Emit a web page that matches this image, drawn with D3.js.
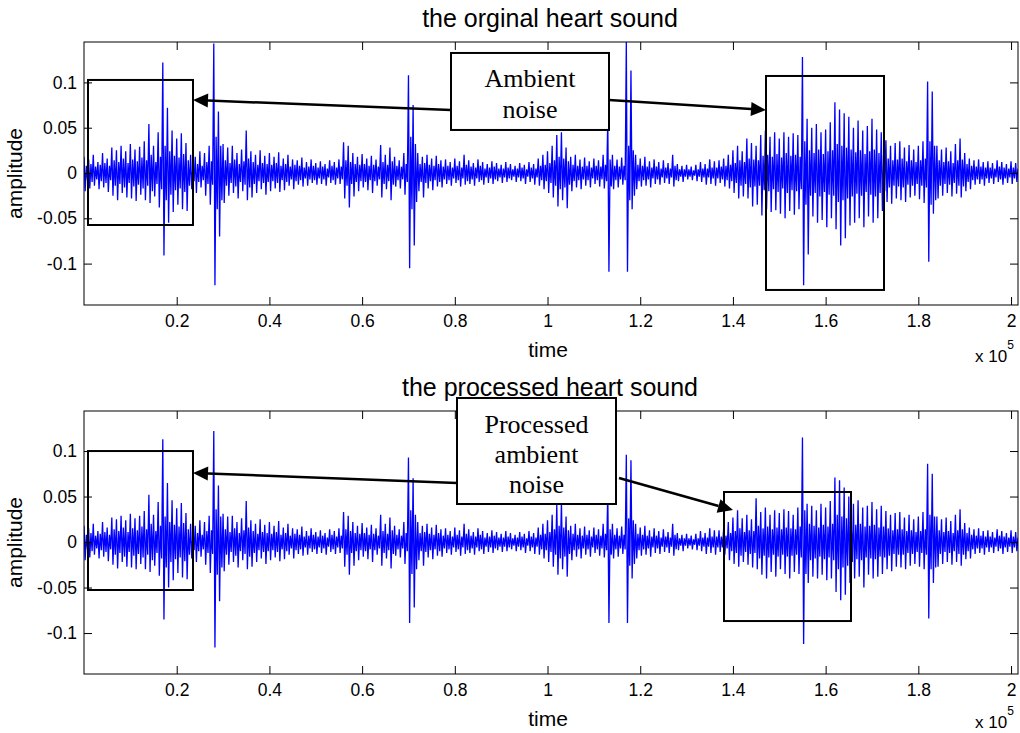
<!DOCTYPE html>
<html lang="en">
<head>
<meta charset="utf-8">
<title>heart sound</title>
<script src="https://cdn.jsdelivr.net/npm/d3@7"></script>
<style>
  body { margin: 0; background: #fff; }
  svg text { font-family: "Liberation Sans", Arial, sans-serif; fill: #000; }
  .tick line { stroke: #000; stroke-width: 1px; }
  .tick text { font-size: 17.5px; font-family: "Liberation Sans", Arial, sans-serif; }
  .note { font-family: "Liberation Serif", "Times New Roman", serif; font-size: 26px; }
</style>
</head>
<body>
<div id="chart"></div>
<script>
// envelope of the recordings, one max/min pair per 1000 samples, in units of 0.001
var origMax = [
  18,15,20,12,22,16,28,25,30,24,  32,26,29,35,54,30,45,122,72,47,
  38,44,33,20,18,24,22,30,143,68, 32,28,30,22,26,47,24,20,25,19,
  22,18,23,16,20,15,14,17,12,15,  11,13,10,14,12,15,34,30,22,18,
  21,16,19,15,31,20,28,18,14,22,  108,75,22,18,20,16,19,14,15,12,
  16,13,20,14,11,15,12,10,13,11,  9,12,10,8,11,9,12,10,16,20,
  24,30,42,45,28,18,20,15,17,13,  16,14,20,60,20,15,17,145,113,20,
  16,18,13,15,12,14,11,20,10,8,   9,7,9,12,10,15,13,14,16,20,
  25,30,24,38,33,30,42,47,40,45,  38,45,40,44,42,128,60,50,54,45,
  48,56,78,70,66,62,50,58,47,52,  60,48,45,36,30,33,35,28,31,26,
  30,35,101,90,30,26,28,24,32,38, 22,16,14,15,12,13,11,14,12,10,
  13,11
];
var origMin = [
  -20,-17,-14,-18,-16,-21,-25,-30,-22,-27,  -28,-31,-24,-30,-33,-26,-38,-91,-55,-43,
  -35,-40,-42,-18,-22,-16,-25,-35,-124,-70, -33,-25,-22,-28,-20,-30,-27,-22,-18,-24,
  -20,-17,-21,-19,-14,-18,-13,-15,-14,-11,  -13,-12,-14,-11,-13,-12,-28,-38,-26,-20,
  -16,-19,-22,-14,-27,-18,-30,-15,-17,-24,  -105,-80,-20,-27,-17,-19,-15,-16,-12,-14,
  -11,-15,-13,-12,-14,-10,-13,-11,-12,-9,   -11,-10,-8,-10,-9,-12,-10,-13,-14,-18,
  -22,-27,-37,-30,-39,-20,-16,-18,-14,-16,  -12,-15,-17,-109,-18,-16,-13,-109,-40,-18,
  -15,-14,-16,-12,-13,-11,-12,-15,-9,-10,   -7,-8,-9,-10,-13,-12,-14,-11,-15,-17,
  -22,-28,-26,-28,-37,-35,-47,-40,-43,-41,  -45,-50,-42,-46,-40,-124,-90,-48,-55,-52,
  -60,-50,-62,-80,-72,-58,-55,-50,-60,-48,  -55,-50,-42,-32,-34,-28,-30,-32,-27,-25,
  -29,-33,-98,-45,-28,-25,-22,-26,-23,-27,  -20,-18,-13,-12,-14,-11,-12,-10,-13,-11,
  -12,-10
];
// typical (inner) swing inside each block, units of 0.001
var origInner = [
  8,10,7,9,11,8,14,12,16,11,      15,13,17,14,20,12,18,30,24,19,
  17,21,14,9,10,8,12,13,40,30,    14,11,15,10,13,16,12,9,11,10,
  9,11,8,10,7,9,8,6,7,8,          6,7,5,8,6,7,14,12,10,9,
  10,8,9,7,12,9,13,8,7,10,        40,32,10,11,9,8,10,7,8,6,
  8,6,9,7,6,8,5,6,7,5,            5,6,4,5,6,4,6,5,8,9,
  11,14,18,16,13,9,8,7,8,6,       8,7,9,15,8,7,8,30,25,9,
  8,7,6,7,5,6,5,8,4,4,            4,3,4,5,5,6,6,7,8,9,
  11,14,12,16,15,14,19,20,18,21,  17,22,19,20,18,35,25,22,26,21,
  24,25,32,30,28,26,23,25,21,24,  26,22,20,16,14,15,16,13,14,12,
  14,16,35,30,14,12,13,11,14,15,  10,8,7,7,6,6,5,7,6,5,
  6,5
];
var procMax = [
  18,15,20,12,22,16,27,25,29,24,  31,26,29,34,52,30,44,113,65,46,
  37,43,32,20,18,24,22,29,122,62, 31,28,29,22,26,45,24,20,25,19,
  22,18,23,16,20,15,14,17,12,15,  11,13,10,14,12,15,33,29,22,18,
  21,16,19,15,30,20,27,18,14,22,  93,70,22,18,20,16,19,14,15,12,
  16,13,20,14,11,15,12,10,13,11,  9,12,10,8,11,9,12,10,16,20,
  24,30,41,44,28,18,20,15,17,13,  16,14,20,55,20,15,17,96,90,20,
  16,18,13,15,12,14,11,20,10,8,   9,7,9,12,10,15,13,13,15,22,
  27,35,26,30,25,48,33,38,30,35,  32,36,34,30,38,115,42,40,35,42,
  38,45,71,68,60,50,42,46,38,40,  44,36,40,34,30,32,33,27,30,25,
  28,33,86,75,28,25,27,23,30,36,  21,16,14,15,12,13,11,14,12,10,
  13,11
];
var procMin = [
  -20,-17,-14,-18,-16,-21,-25,-29,-22,-27,  -28,-30,-24,-30,-33,-26,-37,-85,-50,-42,
  -34,-39,-41,-18,-22,-16,-25,-34,-116,-65, -32,-25,-22,-28,-20,-30,-27,-22,-18,-24,
  -20,-17,-21,-19,-14,-18,-13,-15,-14,-11,  -13,-12,-14,-11,-13,-12,-27,-36,-26,-20,
  -16,-19,-22,-14,-26,-18,-29,-15,-17,-24,  -89,-72,-20,-26,-17,-19,-15,-16,-12,-14,
  -11,-15,-13,-12,-14,-10,-13,-11,-12,-9,   -11,-10,-8,-10,-9,-12,-10,-13,-14,-18,
  -22,-27,-36,-30,-38,-20,-16,-18,-14,-16,  -12,-15,-17,-89,-18,-16,-13,-89,-40,-18,
  -15,-14,-16,-12,-13,-11,-12,-15,-9,-10,   -7,-8,-9,-10,-13,-12,-14,-11,-14,-20,
  -24,-27,-22,-25,-28,-30,-36,-40,-33,-38,  -30,-35,-40,-33,-35,-112,-45,-38,-40,-36,
  -42,-40,-55,-64,-58,-45,-40,-38,-50,-36,  -40,-38,-35,-30,-32,-27,-28,-30,-26,-24,
  -27,-30,-84,-45,-27,-24,-22,-25,-22,-26,  -19,-18,-13,-12,-14,-11,-12,-10,-13,-11,
  -12,-10
];
var procInner = [
  8,10,7,9,11,8,14,12,16,11,      15,13,17,14,20,12,18,28,22,19,
  17,21,14,9,10,8,12,13,36,28,    14,11,15,10,13,16,12,9,11,10,
  9,11,8,10,7,9,8,6,7,8,          6,7,5,8,6,7,14,12,10,9,
  10,8,9,7,12,9,13,8,7,10,        35,30,10,11,9,8,10,7,8,6,
  8,6,9,7,6,8,5,6,7,5,            5,6,4,5,6,4,6,5,8,9,
  11,14,18,16,13,9,8,7,8,6,       8,7,9,14,8,7,8,26,24,9,
  8,7,6,7,5,6,5,8,4,4,            4,3,4,5,5,6,6,6,7,10,
  12,15,11,13,12,18,15,17,14,16,  14,16,15,14,17,35,20,18,16,19,
  17,20,30,28,26,22,19,20,17,18,  19,16,17,15,13,14,14,12,13,11,
  12,14,30,28,13,11,12,10,13,14,  10,8,7,7,6,6,5,7,6,5,
  6,5
];
var sampleStep = 1000;
var xTicks = [20000, 40000, 60000, 80000, 100000, 120000, 140000, 160000, 180000, 200000];
var yTicks = [-0.1, -0.05, 0, 0.05, 0.1];

var width = 1020, height = 733;
var left = 84, right = 1018;

var svg = d3.select("#chart").append("svg")
    .attr("width", width)
    .attr("height", height);

var panels = [
  { top: 42, bottom: 305, yDomain: [-0.1457, 0.1446], title: "the orginal heart sound",
    hi: origMax, lo: origMin, inner: origInner, expY: 362,
    boxes: [[863, 23516, 0.1027, -0.0574], [147135, 172592, 0.1071, -0.1291]],
    note: { x0: 79177, x1: 113264, y0: 0.1325, y1: 0.0475, lines: ["Ambient", "noise"], first: 87, gap: 31 },
    arrows: [[79177, 0.0695, 23516, 0.0806], [113264, 0.0806, 147135, 0.0695]] },
  { top: 411, bottom: 674, yDomain: [-0.145, 0.144], title: "the processed heart sound",
    hi: procMax, lo: procMin, inner: procInner, expY: 728,
    boxes: [[863, 23516, 0.1000, -0.0527], [138074, 165473, 0.0550, -0.0868]],
    note: { x0: 80471, x1: 114774, y0: 0.1583, y1: 0.0418, lines: ["Processed", "ambient", "noise"], first: 433, gap: 30 },
    arrows: [[80471, 0.0649, 23516, 0.0759], [115420, 0.0704, 140016, 0.0352]] }
];

panels.forEach(drawPanel);

function drawPanel(p, k) {
  var x = d3.scaleLinear().domain([0, 201500]).range([left, right]);
  var y = d3.scaleLinear().domain(p.yDomain).range([p.bottom, p.top]);
  var g = svg.append("g");

  g.append("clipPath").attr("id", "clip" + k)
    .append("rect")
      .attr("x", left).attr("y", p.top)
      .attr("width", right - left).attr("height", p.bottom - p.top);

  // four points per block: peak, trough, then the inner swing up and down
  var pts = [];
  var q = sampleStep / 4;
  p.hi.forEach(function(v, i) {
    var s = i * sampleStep;
    pts.push([s, v / 1000]);
    pts.push([s + q, p.lo[i] / 1000]);
    pts.push([s + 2 * q, p.inner[i] / 1000]);
    pts.push([s + 3 * q, -p.inner[i] / 1000]);
  });
  var line = d3.line()
      .x(function(d) { return x(d[0]); })
      .y(function(d) { return y(d[1]); });
  g.append("path")
      .attr("clip-path", "url(#clip" + k + ")")
      .attr("d", line(pts))
      .attr("fill", "none")
      .attr("stroke", "#0000ff")
      .attr("stroke-width", 1.3);

  // axes, ticks pointing inwards like matlab
  g.append("g").attr("transform", "translate(0," + p.bottom + ")")
    .call(d3.axisBottom(x).tickValues(xTicks).tickSize(-8).tickPadding(10)
      .tickFormat(function(d) { return d / 1e5; }));
  g.append("g").attr("transform", "translate(0," + p.top + ")")
    .call(d3.axisTop(x).tickValues(xTicks).tickSize(-8).tickFormat(""));
  g.append("g").attr("transform", "translate(" + left + ",0)")
    .call(d3.axisLeft(y).tickValues(yTicks).tickSize(-8).tickPadding(7)
      .tickFormat(function(d) { return String(d); }));
  g.append("g").attr("transform", "translate(" + right + ",0)")
    .call(d3.axisRight(y).tickValues(yTicks).tickSize(-8).tickFormat(""));
  g.selectAll(".domain").remove();
  g.selectAll(".tick text").attr("fill", "#000");

  g.append("rect")
      .attr("x", left).attr("y", p.top)
      .attr("width", right - left).attr("height", p.bottom - p.top)
      .attr("fill", "none").attr("stroke", "#000").attr("stroke-width", 1);

  g.append("text")
      .attr("x", 550).attr("y", p.top - 15)
      .attr("text-anchor", "middle")
      .style("font-size", "25px")
      .text(p.title);
  g.append("text")
      .attr("x", 548).attr("y", p.bottom + 52)
      .attr("text-anchor", "middle")
      .style("font-size", "21px")
      .text("time");
  g.append("text")
      .attr("transform", "translate(22," + ((p.top + p.bottom) / 2) + ") rotate(-90)")
      .attr("text-anchor", "middle")
      .style("font-size", "21px")
      .text("amplitude");
  var ex = g.append("text")
      .attr("x", 975).attr("y", p.expY)
      .style("font-size", "17px");
  ex.append("tspan").text("x 10");
  ex.append("tspan").attr("dy", -13).style("font-size", "12px").text("5");

  // annotation boxes
  p.boxes.forEach(function(b) {
    g.append("rect")
        .attr("x", x(b[0])).attr("y", y(b[2]))
        .attr("width", x(b[1]) - x(b[0])).attr("height", y(b[3]) - y(b[2]))
        .attr("fill", "none").attr("stroke", "#000").attr("stroke-width", 2);
  });

  var n = p.note;
  g.append("rect")
      .attr("x", x(n.x0)).attr("y", y(n.y0))
      .attr("width", x(n.x1) - x(n.x0)).attr("height", y(n.y1) - y(n.y0))
      .attr("fill", "#fff").attr("stroke", "#000").attr("stroke-width", 2);
  n.lines.forEach(function(t, i) {
    g.append("text")
        .attr("class", "note")
        .attr("x", (x(n.x0) + x(n.x1)) / 2)
        .attr("y", n.first + i * n.gap)
        .attr("text-anchor", "middle")
        .text(t);
  });

  p.arrows.forEach(function(a) {
    var x1 = x(a[0]), y1 = y(a[1]), x2 = x(a[2]), y2 = y(a[3]);
    var ang = Math.atan2(y2 - y1, x2 - x1);
    var len = 15, hw = 7;
    var bx = x2 - len * Math.cos(ang), by = y2 - len * Math.sin(ang);
    g.append("line")
        .attr("x1", x1).attr("y1", y1).attr("x2", bx).attr("y2", by)
        .attr("stroke", "#000").attr("stroke-width", 2.5);
    g.append("path")
        .attr("d", "M" + x2 + "," + y2 +
          "L" + (bx + hw * Math.sin(ang)) + "," + (by - hw * Math.cos(ang)) +
          "L" + (bx - hw * Math.sin(ang)) + "," + (by + hw * Math.cos(ang)) + "Z")
        .attr("fill", "#000");
  });
}
</script>
</body>
</html>
